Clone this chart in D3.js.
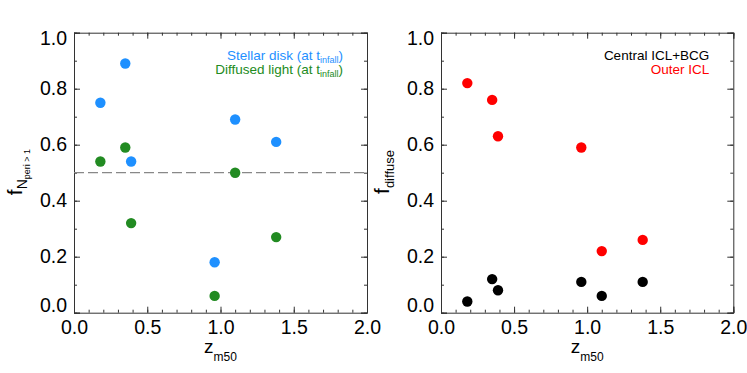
<!DOCTYPE html>
<html>
<head>
<meta charset="utf-8">
<script src="https://cdn.jsdelivr.net/npm/d3@7"></script>
<style>
  body { margin: 0; background: #fff; }
  svg { font-family: "Liberation Sans", Arial, sans-serif; }
</style>
</head>
<body>
<svg id="chart" width="747" height="373"></svg>
<script>
// redshift of the 50% mass epoch, shared by both panels
const zm50 = [0.18, 0.35, 0.39, 0.96, 1.10, 1.38]

// left panel: fraction with N_peri > 1
const stellarDisk = [0.75, 0.89, 0.54, 0.18, 0.69, 0.61]
const diffusedLight = [0.54, 0.59, 0.32, 0.06, 0.50, 0.27]

// right panel: f_diffuse
const centralICL = [0.04, 0.12, 0.08, 0.11, 0.06, 0.11]
const outerICL = [0.82, 0.76, 0.63, 0.59, 0.22, 0.26]

const xTicks = [0, 0.5, 1, 1.5, 2]
const yTicks = [0, 0.2, 0.4, 0.6, 0.8, 1.0]

const svg = d3.select('#chart')
const plotTop = 32.7
const plotBottom = 312.7

function panel(left, right, series, legend, yTitle) {
  const x = d3.scaleLinear().domain([0, 2]).range([left, right])
  const y = d3.scaleLinear().domain([0, 1]).range([plotBottom, plotTop])
  const g = svg.append('g')

  const minorX = d3.range(0, 2.001, 0.1)
  const minorY = d3.range(0, 1.001, 0.1)

  // major + minor ticks on all four sides, pointing inwards
  const axes = [
    [d3.axisBottom(x), `translate(0,${plotBottom})`, xTicks, minorX, true],
    [d3.axisTop(x), `translate(0,${plotTop})`, xTicks, minorX, false],
    [d3.axisLeft(y), `translate(${left},0)`, yTicks, minorY, true],
    [d3.axisRight(y), `translate(${right},0)`, yTicks, minorY, false],
  ]
  axes.forEach(([ax, tr, major, minor, labels]) => {
    const a = g.append('g').attr('transform', tr)
      .call(ax.tickValues(major).tickSize(-6).tickPadding(7)
        .tickFormat(labels ? d3.format('.1f') : ''))
    a.select('.domain').attr('stroke', '#333')
    a.selectAll('.tick line').attr('stroke', '#333')
    a.selectAll('text').attr('font-size', 19.5).attr('fill', '#000')
      .attr('font-family', '"Liberation Sans", Arial, sans-serif')
    const m = g.append('g').attr('transform', tr)
      .call(ax.tickValues(minor).tickSize(-3).tickFormat(''))
    m.select('.domain').remove()
    m.selectAll('.tick line').attr('stroke', '#333')
  })
  // keep the end labels of the y axis inside the frame
  g.selectAll('.tick text')
    .filter(function () { return this.parentNode.parentNode.getAttribute('transform') === `translate(${left},0)` })
    .attr('dy', d => d === 0 ? '-0.05em' : d === 1 ? '0.6em' : '0.32em')

  // dashed reference line
  if (series.dashed !== undefined) {
    g.append('line')
      .attr('x1', x(0)).attr('x2', x(2))
      .attr('y1', y(series.dashed)).attr('y2', y(series.dashed))
      .attr('stroke', '#888').attr('stroke-width', 1.2)
      .attr('stroke-dasharray', '10,4')
  }

  series.sets.forEach(s => {
    g.append('g').selectAll('circle')
      .data(s.values)
      .join('circle')
      .attr('cx', (d, i) => x(zm50[i]))
      .attr('cy', d => y(d))
      .attr('r', 5.2)
      .attr('fill', s.color)
  })

  // legend, right aligned
  legend.forEach((l, i) => {
    const t = g.append('text')
      .attr('x', right - 24).attr('y', 60 + i * 14)
      .attr('text-anchor', 'end')
      .attr('font-size', 13.5)
      .attr('fill', l.color)
    t.append('tspan').text(l.text)
    if (l.sub) {
      t.append('tspan').attr('font-size', 9).attr('dy', 3).text(l.sub)
      t.append('tspan').attr('dy', -3).text(')')
    }
  })

  // x title
  const xt = g.append('text')
    .attr('x', (left + right) / 2).attr('y', 353)
    .attr('text-anchor', 'middle')
    .attr('font-size', 19)
  xt.append('tspan').text('z')
  xt.append('tspan').attr('font-size', 12).attr('dy', 8).text('m50')

  // y title
  const yt = g.append('text')
    .attr('transform', `translate(${left - 52},172) rotate(-90)`)
    .attr('text-anchor', 'middle')
    .attr('font-size', 21)
  yt.append('tspan').text('f')
  yTitle(yt)
}

panel(74, 367,
  {
    dashed: 0.5,
    sets: [
      { values: stellarDisk, color: '#1e90ff' },
      { values: diffusedLight, color: '#228b22' },
    ],
  },
  [
    { text: 'Stellar disk (at t', sub: 'infall', color: '#1e90ff' },
    { text: 'Diffused light (at t', sub: 'infall', color: '#228b22' },
  ],
  t => {
    t.append('tspan').attr('font-size', 14).attr('dy', 5).text('N')
    t.append('tspan').attr('font-size', 9).attr('dy', 3).text('peri > 1')
  })

panel(441, 733.3,
  {
    sets: [
      { values: outerICL, color: '#ff0000' },
      { values: centralICL, color: '#000000' },
    ],
  },
  [
    { text: 'Central ICL+BCG', color: '#000000' },
    { text: 'Outer ICL', color: '#ff0000' },
  ],
  t => {
    t.append('tspan').attr('font-size', 13).attr('dy', 5).text('diffuse')
  })
</script>
</body>
</html>
